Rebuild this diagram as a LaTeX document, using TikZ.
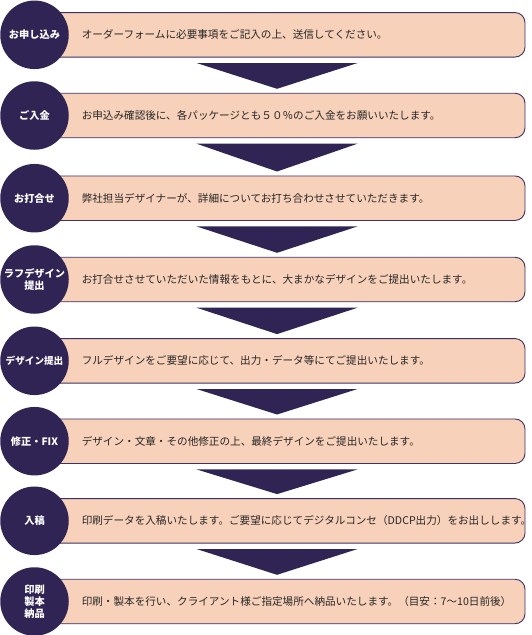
\documentclass[tikz,border=0pt]{standalone}
\usepackage{fontspec}
\setmainfont{Noto Sans CJK JP}
\usetikzlibrary{calc}
\definecolor{navy}{HTML}{2F2454}
\definecolor{peach}{HTML}{F8D1BA}
\definecolor{edgecol}{HTML}{3D3063}
\begin{document}
\begin{tikzpicture}[x=1pt,y=-1pt,
  bar/.style={draw=edgecol, line width=0.9pt, fill=peach, rounded corners=10pt,
    minimum width=485pt, minimum height=44.5pt, inner sep=0pt},
  stepcirc/.style={circle, fill=navy, minimum size=68.5pt, inner sep=0pt,
    text=white, font=\fontsize{10.2}{12}\selectfont\bfseries, align=center},
  bartext/.style={anchor=west, inner sep=0pt, text=black!85,
    font=\fontsize{10.6}{12}\selectfont},
  arrowfill/.style={fill=navy}]
\useasboundingbox (0,0) rectangle (532,635);
% bars
\node[bar] (b1) at (282.5,34.8) {};
\node[bar] (b2) at (282.5,115.5) {};
\node[bar] (b3) at (282.5,198.2) {};
\node[bar] (b4) at (282.5,279.5) {};
\node[bar] (b5) at (282.5,360.8) {};
\node[bar] (b6) at (282.5,441.2) {};
\node[bar] (b7) at (282.5,520.8) {};
\node[bar] (b8) at (282.5,601.5) {};
% circles
\node[stepcirc] (c1) at (34.5,34.8) {お申し込み};
\node[stepcirc] (c2) at (34.5,115.5) {ご入金};
\node[stepcirc] (c3) at (34.5,198.2) {お打合せ};
\node[stepcirc] (c4) at (34.5,279.5) {ラフデザイン\\提出};
\node[stepcirc, font=\fontsize{9.6}{12}\selectfont\bfseries] (c5) at (34.5,360.8) {デザイン提出};
\node[stepcirc] (c6) at (34.5,441.2) {修正・FIX};
\node[stepcirc] (c7) at (34.5,520.8) {入稿};
\node[stepcirc] (c8) at (34.5,601.5) {印刷\\製本\\納品};
% texts
\node[bartext] (t1) at ($(b1.west)+(42,0)$) {オーダーフォームに必要事項をご記入の上、送信してください。};
\node[bartext] (t2) at ($(b2.west)+(42,0)$) {お申込み確認後に、各パッケージとも５０％のご入金をお願いいたします。};
\node[bartext] (t3) at ($(b3.west)+(42,0)$) {弊社担当デザイナーが、詳細についてお打ち合わせさせていただきます。};
\node[bartext] (t4) at ($(b4.west)+(42,0)$) {お打合せさせていただいた情報をもとに、大まかなデザインをご提出いたします。};
\node[bartext] (t5) at ($(b5.west)+(42,0)$) {フルデザインをご要望に応じて、出力・データ等にてご提出いたします。};
\node[bartext] (t6) at ($(b6.west)+(42,0)$) {デザイン・文章・その他修正の上、最終デザインをご提出いたします。};
\node[bartext] (t7) at ($(b7.west)+(42,0)$) {印刷データを入稿いたします。ご要望に応じてデジタルコンセ（DDCP出力）をお出しします。};
\node[bartext] (t8) at ($(b8.west)+(42,0)$) {印刷・製本を行い、クライアント様ご指定場所へ納品いたします。（目安：7～10日前後）};
% arrows
\foreach \a/\b in {1/2,2/3,3/4,4/5,5/6,6/7,7/8}{
  \fill[arrowfill] ($(b\a.south west)+(157,5.5)$) -- ($(b\a.south west)+(318,5.5)$)
    -- ($(b\b.north west)+(237.5,-4)$) -- cycle;
}
\end{tikzpicture}
\end{document}
